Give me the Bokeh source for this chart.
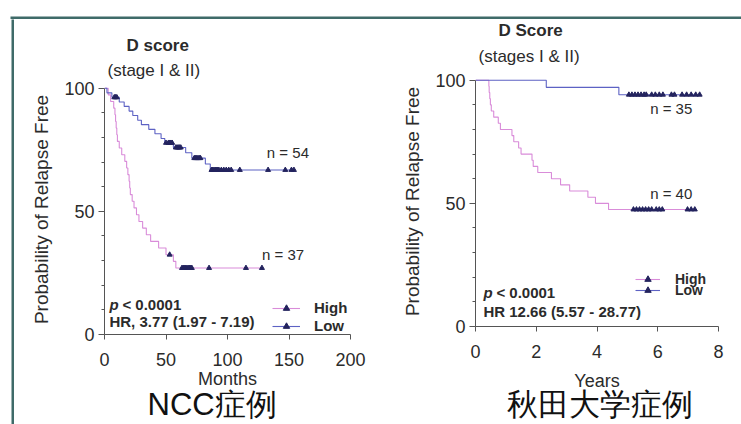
from bokeh.plotting import figure
from bokeh.layouts import row, column
from bokeh.models import (Range1d, FixedTicker, Label, Title, Legend, LegendItem, Spacer, BoxAnnotation)
from bokeh.embed import file_html
from bokeh.resources import INLINE

# ---------------- data ----------------
# NCC cohort (months)
ncc_high_t = [0, 3, 5, 7.5, 8.5, 9, 9.5, 10, 10.5, 12, 14, 16.5, 18, 19, 20, 20.5, 21, 22.5, 24, 26, 28, 31, 34, 37.5, 44, 50, 56, 58, 128]
ncc_high_s = [100, 97.3, 94.6, 91.9, 89.2, 86.5, 83.8, 81.1, 78.4, 75.7, 73.0, 70.3, 67.6, 64.9, 62.2, 59.5, 56.8, 54.1, 51.4, 48.6, 45.9, 43.2, 40.5, 37.8, 35.1, 32.4, 29.7, 27.0, 27.0]
ncc_high_cens = [53, 63, 64, 65, 66, 67, 68, 69, 70, 71, 85, 115, 128]

ncc_low_t = [0, 2, 6, 12, 16, 20, 23, 27, 30, 36, 41, 46, 49, 56, 66, 71, 82, 86, 155]
ncc_low_s = [100, 98.1, 96.3, 94.4, 92.6, 90.7, 88.9, 87.0, 85.2, 83.3, 81.5, 79.6, 77.8, 75.9, 73.8, 71.6, 69.2, 66.8, 66.8]
ncc_low_cens = [8, 9, 10, 50, 52, 53, 54, 55, 58, 59, 60, 61, 62, 73, 74, 75, 76, 77, 78,
                87, 88, 89, 90, 91, 92, 93, 95, 97, 99, 101, 103, 110, 133, 147, 152, 154]

# Akita University cohort (years)
akita_high_t = [0, 0.44, 0.45, 0.47, 0.49, 0.52, 0.6, 0.75, 0.82, 1.2, 1.26, 1.42, 1.5, 1.86, 1.9, 2.05, 2.5, 2.8, 3.1, 3.7, 3.95, 4.38, 7.24]
akita_high_s = [100, 97.5, 95, 92.5, 90, 87.5, 85, 82.5, 80, 77.5, 75, 72.5, 70, 67.5, 65, 62.5, 60, 57.5, 55, 52.5, 50, 47.5, 47.5]
akita_high_cens = [5.2, 5.3, 5.4, 5.5, 5.6, 5.7, 5.8, 5.95, 6.05, 6.15, 6.98, 7.1, 7.22]

akita_low_t = [0, 2.33, 4.72, 7.4]
akita_low_s = [100, 97.1, 94.1, 94.1]
akita_low_cens = [5.05, 5.15, 5.25, 5.35, 5.45, 5.55, 5.62, 5.8, 5.92, 6.05, 6.17, 6.45, 6.55,
                  6.8, 6.95, 7.1, 7.25, 7.38]

ncc_xticks = [0, 50, 100, 150, 200]
akita_xticks = [0, 2, 4, 6, 8]
y_ticks = [0, 50, 100]
y_minor = [10, 20, 30, 40, 60, 70, 80, 90]

FONT = "Liberation Sans"
TEXT = "#2b2b2b"
TEAL = "#3f6b69"
PINK = "#d98cd9"
BLUE = "#5d62c4"
MARK = "#23235e"


def level_at(ts, ss, c):
    lvl = ss[0]
    for t, s in zip(ts, ss):
        if t <= c:
            lvl = s
    return lvl


def km_panel(width, height, xmax, xticks, borders, xlabel, title1, title2, t_offsets,
             t_standoffs, sub_valign, caption, cap_offset, cap_standoff, series, xlabel_standoff):
    left, right, top, bottom = borders
    p = figure(width=width, height=height, x_range=Range1d(0, xmax), y_range=Range1d(0, 101.5),
               output_backend="svg", toolbar_location=None,
               min_border_left=left, min_border_right=right,
               min_border_top=top, min_border_bottom=bottom,
               title=title1)
    p.outline_line_color = None
    p.xgrid.visible = False
    p.ygrid.visible = False
    p.background_fill_color = "white"
    p.border_fill_color = "white"

    p.title.text_font = FONT
    p.title.text_font_size = "17px"
    p.title.text_font_style = "bold"
    p.title.text_color = TEXT
    p.title.align = "left"
    p.title.offset = t_offsets[0]
    p.title.standoff = t_standoffs[0]
    p.add_layout(Title(text=title2, text_font=FONT, text_font_size="17px", text_font_style="normal",
                       text_color=TEXT, align="left", offset=t_offsets[1],
                       standoff=t_standoffs[1], vertical_align=sub_valign), "above")

    for ax in (p.xaxis[0], p.yaxis[0]):
        ax.axis_line_color = "#555555"
        ax.major_tick_line_color = "#555555"
        ax.minor_tick_line_color = "#555555"
        ax.major_label_text_font = FONT
        ax.major_label_text_font_size = "18px"
        ax.major_label_text_color = TEXT
        ax.axis_label_text_font = FONT
        ax.axis_label_text_font_size = "18px"
        ax.axis_label_text_font_style = "normal"
        ax.axis_label_text_color = TEXT
    p.xaxis.ticker = FixedTicker(ticks=xticks)
    p.xaxis.major_tick_out = 5
    p.xaxis.major_tick_in = 0
    p.xaxis.minor_tick_out = 0
    p.xaxis.major_label_standoff = 13
    p.xaxis.axis_label = xlabel
    p.xaxis.axis_label_standoff = xlabel_standoff

    p.yaxis.ticker = FixedTicker(ticks=y_ticks, minor_ticks=y_minor)
    p.yaxis.bounds = (0, 100)
    p.yaxis.major_tick_out = 6
    p.yaxis.major_tick_in = 0
    p.yaxis.minor_tick_out = 3
    p.yaxis.minor_tick_in = 0
    p.yaxis.major_label_standoff = 4
    p.yaxis.axis_label = "Probability of Relapse Free"
    p.yaxis.axis_label_text_font_size = "19px"
    p.yaxis.axis_label_standoff = 9

    items = []
    for label, ts, ss, cens, color in series:
        lr = p.step(ts, ss, mode="after", line_color=color, line_width=1.1)
        cy = [level_at(ts, ss, c) for c in cens]
        mr = p.scatter(cens, cy, marker="triangle", size=5, fill_color=MARK, line_color=MARK)
        items.append(LegendItem(label=label, renderers=[lr, mr]))

    p.add_layout(Title(text=caption, text_font=FONT, text_font_size="31px",
                       text_font_style="normal", text_color="#111111", align="left",
                       offset=cap_offset, standoff=cap_standoff), "below")
    return p, items


def add_legend(p, items, locs, glyph_w, standoff, size):
    for item, loc in zip(items, locs):
        p.add_layout(Legend(items=[item], location=loc, background_fill_alpha=0,
                            border_line_color=None, padding=0, margin=0, spacing=0,
                            label_height=16, glyph_height=16, glyph_width=glyph_w,
                            label_standoff=standoff, label_text_font=FONT,
                            label_text_font_size=size, label_text_font_style="bold",
                            label_text_color=TEXT))


p1, items1 = km_panel(356, 397, 200, ncc_xticks, (90, 20, 57, 90), "Months",
                      "D score", "(stage I & II)", (22, 3), (0, 8.5), "bottom", "NCC症例", 43, -14,
                      [("High", ncc_high_t, ncc_high_s, ncc_high_cens, PINK),
                       ("Low", ncc_low_t, ncc_low_s, ncc_low_cens, BLUE)], 0)
add_legend(p1, items1, [(168, 18), (168, 0)], 28, 14, "15px")

p2, items2 = km_panel(371, 405, 8, akita_xticks, (105, 23, 57, 98), "Years",
                      "D Score", "(stages I & II)", (23, 3), (-1, 15.5), "top", "秋田大学症例", 31, -18,
                      [("High", akita_high_t, akita_high_s, akita_high_cens, PINK),
                       ("Low", akita_low_t, akita_low_s, akita_low_cens, BLUE)], 10)
add_legend(p2, items2, [(160, 39), (160, 28)], 25, 15, "14px")


def stats(p, x, y1, y2, hr):
    p.add_layout(Label(x=x, y=y1, text="p", text_font=FONT, text_font_size="15px",
                       text_font_style="bold italic", text_color=TEXT, text_baseline="middle"))
    p.add_layout(Label(x=x, y=y1, x_offset=13, text="< 0.0001", text_font=FONT, text_font_size="15px",
                       text_font_style="bold", text_color=TEXT, text_baseline="middle"))
    p.add_layout(Label(x=x, y=y2, text=hr, text_font=FONT, text_font_size="15px",
                       text_font_style="bold", text_color=TEXT, text_baseline="middle"))


def nlabel(p, x, y, txt):
    p.add_layout(Label(x=x, y=y, text=txt, text_font=FONT, text_font_size="15px",
                       text_color=TEXT, text_baseline="middle"))


stats(p1, 4, 12.0, 5.4, "HR, 3.77 (1.97 - 7.19)")
stats(p2, 0.26, 13.8, 5.9, "HR 12.66 (5.57 - 28.77)")
nlabel(p1, 132, 74, "n = 54")
nlabel(p1, 128, 32.5, "n = 37")
nlabel(p2, 5.75, 88.5, "n = 35")
nlabel(p2, 5.75, 54, "n = 40")


# teal frame of the slide
top = figure(width=741, height=19, x_range=Range1d(0, 741), y_range=Range1d(0, 19),
             output_backend="svg", toolbar_location=None, min_border=0, title=None,
             x_axis_location=None, y_axis_location=None, outline_line_color=None,
             background_fill_color="white", border_fill_color="white")
top.grid.visible = False
top.add_layout(BoxAnnotation(left=10, right=741, bottom=0, top=3, fill_color=TEAL,
                             fill_alpha=1, line_color=None))

vbar = figure(width=3, height=405, output_backend="svg", toolbar_location=None, min_border=0,
              title=None, x_axis_location=None, y_axis_location=None, background_fill_color=TEAL,
              border_fill_color=TEAL, outline_line_color=None)
vbar.grid.visible = False

layout = column(
    top,
    row(Spacer(width=11, height=405), vbar,
        column(Spacer(width=356, height=8), p1),
        column(p2)),
)

open("out.html", "w").write(file_html(layout, INLINE))
